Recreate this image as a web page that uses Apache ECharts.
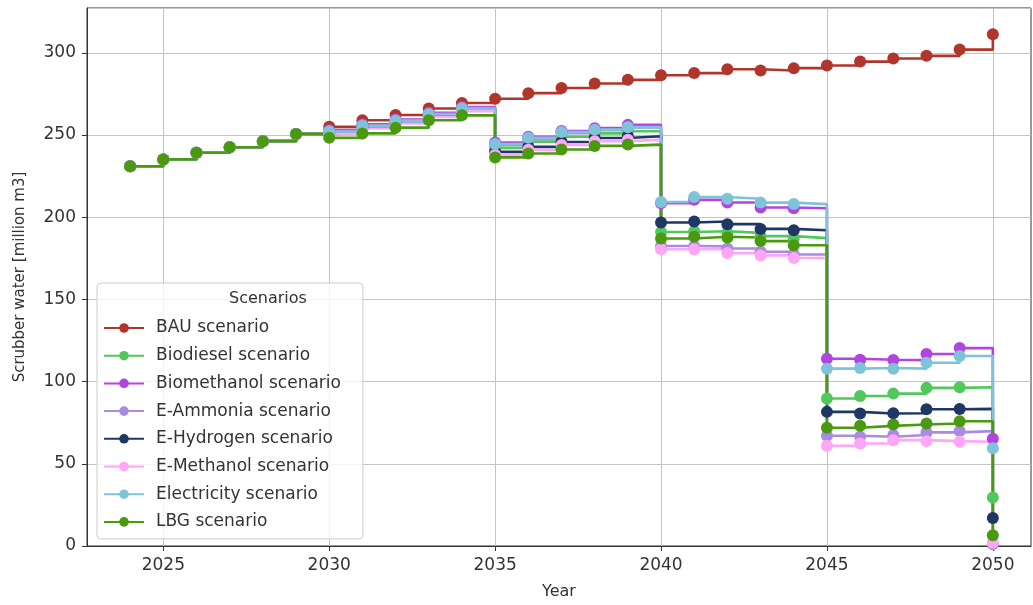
<!DOCTYPE html>
<html>
<head>
<meta charset="utf-8">
<script src="https://cdn.jsdelivr.net/npm/echarts@6/dist/echarts.min.js"></script>
<style>
  html, body { margin: 0; padding: 0; background: #fff; }
  #chart { width: 1033px; height: 605px; }
</style>
</head>
<body>
<div id="chart"></div>
<script>
const years = [2024, 2025, 2026, 2027, 2028, 2029, 2030, 2031, 2032, 2033, 2034, 2035, 2036, 2037,
  2038, 2039, 2040, 2041, 2042, 2043, 2044, 2045, 2046, 2047, 2048, 2049, 2050]
const xTicks = [2025, 2030, 2035, 2040, 2045, 2050]

// 2024-2029 identical for all scenarios
const bau = [231, 235.2, 239.2, 242.6, 246.3, 250.7,
  255, 259, 262.2, 266.2, 269.5, 272.1, 275.5, 278.6, 281.4, 283.6,
  286.4, 287.7, 290, 289.3, 290.7, 292.3, 294.7, 296.6, 298.2, 302, 311.3]
const biodiesel = [231, 235.2, 239.2, 242.6, 246.3, 250.7,
  251.5, 255, 258, 262, 265.5, 242.2, 246, 249, 251, 252.3,
  191, 191.5, 190.5, 188.5, 187.3, 89.7, 91.3, 92.7, 96.2, 96.6, 29.5]
const biomethanol = [231, 235.2, 239.2, 242.6, 246.3, 250.7,
  253, 256.5, 259.5, 263.5, 267, 245.5, 249, 252.5, 254.2, 256.2,
  208.5, 210.6, 209, 205.9, 205.5, 113.9, 113.3, 113.1, 116.8, 120.4, 65.3]
const eAmmonia = [231, 235.2, 239.2, 242.6, 246.3, 250.7,
  252.5, 256, 259, 263, 266.5, 244, 247.5, 251.2, 253, 254.6,
  182.5, 182.3, 181, 179, 177.3, 67.1, 66.5, 67.5, 69.1, 69.9, 1]
const eHydrogen = [231, 235.2, 239.2, 242.6, 246.3, 250.7,
  251, 254.5, 257.5, 261.5, 265, 239.8, 242.8, 245.8, 248.2, 249.3,
  196.8, 197.4, 195.8, 192.9, 192.1, 81.6, 80.6, 80.8, 83.2, 83.4, 17]
const eMethanol = [231, 235.2, 239.2, 242.6, 246.3, 250.7,
  250.5, 254, 257, 261, 264.5, 238, 241, 244, 246.2, 247.2,
  180.5, 180.6, 178.2, 176.8, 175.2, 61, 62.4, 64.4, 63.8, 63.4, 2]
const electricity = [231, 235.2, 239.2, 242.6, 246.3, 250.7,
  252, 255.5, 258.5, 262.5, 266, 244.6, 248.3, 251.9, 253.3, 254.8,
  209.3, 212.3, 211.3, 208.9, 208, 107.9, 108.3, 107.9, 111.5, 115.6, 59.4]
const lbg = [231, 235.2, 239.2, 242.6, 246.3, 250.7,
  248.3, 251, 254.5, 259, 262, 236.4, 238.8, 241.2, 243.4, 244.2,
  187.1, 188.1, 187.7, 185.5, 183, 71.9, 73.1, 73.9, 74.5, 75.9, 6.5]

const scenarios = [
  { name: 'BAU scenario', values: bau, color: '#b0362b' },
  { name: 'Biodiesel scenario', values: biodiesel, color: '#52c85c' },
  { name: 'Biomethanol scenario', values: biomethanol, color: '#b444e2' },
  { name: 'E-Ammonia scenario', values: eAmmonia, color: '#a98ce2' },
  { name: 'E-Hydrogen scenario', values: eHydrogen, color: '#1e3764' },
  { name: 'E-Methanol scenario', values: eMethanol, color: '#ffa6f6' },
  { name: 'Electricity scenario', values: electricity, color: '#7ec3d9' },
  { name: 'LBG scenario', values: lbg, color: '#4a9a0f' }
]

const FONT = 'DejaVu Sans'
const chart = echarts.init(document.getElementById('chart'))

chart.setOption({
  animation: false,
  textStyle: { fontFamily: FONT },
  grid: {
    left: 87, right: 2, top: 8, bottom: 57,
    show: true, borderColor: '#333', borderWidth: 1, backgroundColor: 'transparent'
  },
  graphic: [{
    type: 'text', left: 229, top: 291, z: 100,
    style: { text: 'Scenarios', font: '16px "DejaVu Sans"', fill: '#333', textAlign: 'center' }
  }],
  legend: {
    orient: 'vertical',
    left: 97,
    top: 283,
    padding: [36, 22, 8, 6],
    itemWidth: 40,
    itemHeight: 12,
    itemGap: 9.7,
    backgroundColor: 'rgba(255,255,255,0.8)',
    borderColor: '#cccccc',
    borderWidth: 1,
    borderRadius: 4,
    textStyle: { fontFamily: FONT, fontSize: 17, color: '#333', lineHeight: 18, padding: [0, 0, 0, 7] },
    data: scenarios.map(s => s.name)
  },
  xAxis: {
    type: 'value',
    min: 2022.7,
    max: 2051.15,
    name: 'Year',
    nameLocation: 'middle',
    nameGap: 38,
    nameTextStyle: { fontFamily: FONT, fontSize: 16, color: '#333' },
    axisLine: { show: true, onZero: false, lineStyle: { color: '#333' } },
    axisTick: { show: true, length: 5, customValues: xTicks, lineStyle: { color: '#333' } },
    axisLabel: {
      customValues: xTicks, margin: 11, fontSize: 17, color: '#333', fontFamily: FONT,
      formatter: v => String(v)
    },
    splitLine: { show: true, lineStyle: { color: '#c4c4c4', width: 1 } }
  },
  yAxis: {
    type: 'value',
    min: 0,
    max: 327.3,
    interval: 50,
    name: 'Scrubber water [million m3]',
    nameLocation: 'middle',
    nameGap: 59,
    nameTextStyle: { fontFamily: FONT, fontSize: 15, color: '#333' },
    axisLine: { show: true, lineStyle: { color: '#333' } },
    axisTick: { show: true, length: 5, lineStyle: { color: '#333' } },
    axisLabel: { margin: 11, fontSize: 17, color: '#333', fontFamily: FONT, showMaxLabel: false },
    splitLine: { show: true, lineStyle: { color: '#c4c4c4', width: 1 } }
  },
  series: scenarios.map(s => ({
    name: s.name,
    type: 'line',
    step: 'end',
    data: years.map((y, i) => [y, s.values[i]]),
    symbol: 'circle',
    symbolSize: 12,
    showAllSymbol: true,
    color: s.color,
    lineStyle: { width: 2.6, color: s.color },
    itemStyle: { color: s.color },
    emphasis: { disabled: true }
  }))
})
</script>
</body>
</html>
